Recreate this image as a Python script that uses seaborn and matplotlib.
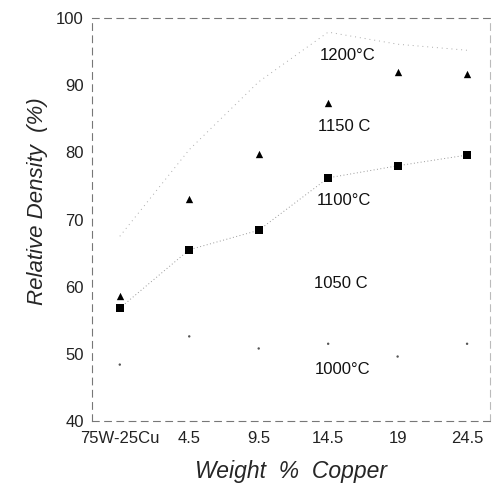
import matplotlib
matplotlib.use("Agg")
from matplotlib import pyplot as plt
import pandas as pd
import seaborn as sns

# categories on the x axis (weight % copper)
copper = ['75W-25Cu', '4.5', '9.5', '14.5', '19', '24.5']

# relative density (%) per sintering temperature
dens_1200 = [67.5, 80.4, 90.5, 97.9, 96.1, 95.2]
dens_1150 = [58.6, 73.1, 79.7, 87.3, 91.9, 91.6]
dens_1100 = [56.8, 65.5, 68.4, 76.2, 78.0, 79.6]
dens_1000 = [48.4, 52.6, 50.8, 51.5, 49.6, 51.5]

# temperature labels and where they sit (x category index, y value)
temp_labels = ['1200°C', '1150 C', '1100°C', '1050 C', '1000°C']
label_x = [2.88, 2.85, 2.83, 2.80, 2.80]
label_y = [94.4, 83.9, 72.8, 60.5, 47.6]

rows = []
for temp, vals in [('1200', dens_1200), ('1150', dens_1150),
                   ('1100', dens_1100), ('1000', dens_1000)]:
    for i, v in enumerate(vals):
        rows.append({'pos': i, 'cu': copper[i], 'temp': temp, 'density': v})
df = pd.DataFrame(rows)

sns.set_style('white')
plt.rcParams['font.family'] = ['Liberation Sans', 'DejaVu Sans']

fig = plt.figure(figsize=(5, 4.87), dpi=100)
ax = fig.add_axes([0.184, 0.1355, 0.796, 0.8275])

# faint dotted connecting lines (scan has mostly faded them)
sns.lineplot(data=df[df.temp == '1200'], x='pos', y='density', ax=ax,
             color='#aaaaaa', lw=0.7, linestyle=(0, (1, 4)), zorder=1)
sns.lineplot(data=df[df.temp == '1100'], x='pos', y='density', ax=ax,
             color='#999999', lw=0.7, linestyle=(0, (1, 2.5)), zorder=1)

sns.scatterplot(data=df[df.temp == '1150'], x='pos', y='density', ax=ax,
                marker='^', s=28, color='black', edgecolor='black',
                linewidth=0, zorder=3)
sns.scatterplot(data=df[df.temp == '1100'], x='pos', y='density', ax=ax,
                marker='s', s=34, color='black', edgecolor='black',
                linewidth=0, zorder=3)
sns.scatterplot(data=df[df.temp == '1000'], x='pos', y='density', ax=ax,
                marker='o', s=3, color='#555555', edgecolor='none', zorder=3)

for t, x, y in zip(temp_labels, label_x, label_y):
    ax.text(x, y, t, fontsize=12, va='center', ha='left', color='#111111')

ax.set_xlim(-0.40, 5.33)
ax.set_ylim(40, 100)
ax.set_xticks(range(len(copper)))
ax.set_xticklabels(copper)
ax.set_yticks([40, 50, 60, 70, 80, 90, 100])
ax.tick_params(axis='both', direction='in', length=4, width=0.7,
               labelsize=12, colors='#222222')
ax.tick_params(axis='x', pad=7)
ax.tick_params(axis='y', pad=6)

ax.set_xlabel('Weight  %  Copper', fontsize=16.5, style='italic', labelpad=10)
ax.set_ylabel('Relative Density  (%)', fontsize=16, style='italic')
ax.yaxis.set_label_coords(-0.11, 0.545)

for side in ['top', 'bottom', 'left', 'right']:
    ax.spines[side].set_visible(True)
    ax.spines[side].set_color('#777777')
    ax.spines[side].set_linewidth(0.8)
    ax.spines[side].set_linestyle((0, (6, 5)))
ax.spines['right'].set_color('#bbbbbb')

fig.savefig('out.png', dpi=100, facecolor='white')
